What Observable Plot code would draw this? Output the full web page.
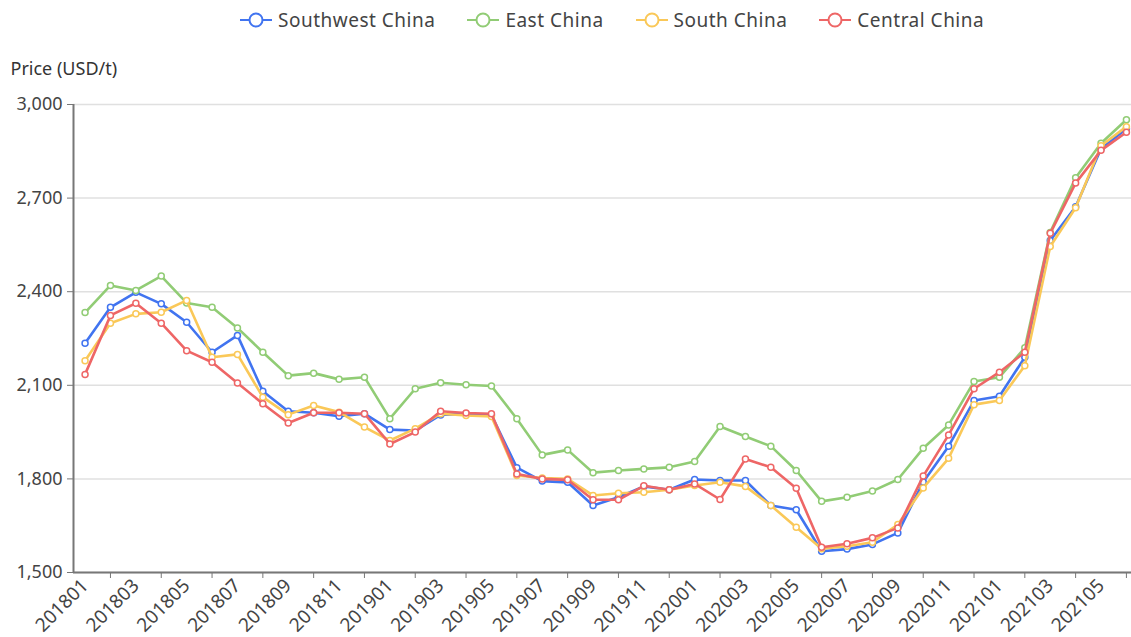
<!DOCTYPE html>
<html>
<head>
<meta charset="utf-8">
<script src="https://cdn.jsdelivr.net/npm/d3@7"></script>
<script src="https://cdn.jsdelivr.net/npm/@observablehq/plot@0.6"></script>
<style>
  body { margin: 0; background: #fff; font-family: "Noto Sans", sans-serif; }
  #legend { height: 40px; display: flex; align-items: center; padding-left: 240px; gap: 32px; color: #444; font-size: 19px; letter-spacing: 0.5px; }
  .item { display: flex; align-items: center; gap: 6px; }
  svg.plot { display: block; }
</style>
</head>
<body>
<div id="legend"></div>
<div id="chart"></div>
<script>
const months = ["201801","201802","201803","201804","201805","201806","201807","201808","201809","201810","201811","201812",
  "201901","201902","201903","201904","201905","201906","201907","201908","201909","201910","201911","201912",
  "202001","202002","202003","202004","202005","202006","202007","202008","202009","202010","202011","202012",
  "202101","202102","202103","202104","202105","202106"];
const seriesNames = ["Southwest China", "East China", "South China", "Central China"];
const seriesColors = ["#4174f0", "#91cc75", "#fac858", "#ee6666"];
const southwest = [2235,2350,2398,2361,2302,2206,2260,2081,2017,2012,2001,2009,1958,1955,2005,2009,2005,1836,1793,1789,1715,1741,
  1776,1765,1798,1795,1795,1715,1701,1568,1575,1590,1627,1790,1905,2051,2065,2190,2564,2672,2858,2922];
const east = [2333,2420,2404,2450,2364,2350,2284,2206,2131,2139,2119,2126,1993,2089,2108,2102,2098,1993,1877,1893,1820,1827,
  1832,1837,1856,1968,1936,1905,1827,1728,1741,1761,1798,1898,1973,2112,2126,2220,2590,2765,2876,2951];
const south = [2179,2299,2329,2334,2372,2190,2199,2062,2006,2035,2014,1966,1923,1961,2009,2003,2000,1811,1803,1800,1747,1754,
  1757,1765,1779,1789,1776,1715,1645,1576,1584,1597,1654,1771,1866,2038,2051,2163,2545,2669,2868,2929];
const central = [2135,2324,2363,2299,2211,2174,2107,2041,1979,2012,2012,2009,1912,1950,2017,2011,2009,1816,1800,1797,1733,1733,
  1778,1765,1784,1734,1864,1837,1770,1581,1592,1611,1643,1809,1941,2089,2142,2206,2587,2748,2853,2911];
const yTicks = [1500, 1800, 2100, 2400, 2700, 3000];
const yLabel = "Price (USD/t)";

const seriesValues = [southwest, east, south, central];
const data = seriesNames.map((name, s) => seriesValues[s].map((v, i) => ({series: name, i, v})));

// legend
const legend = document.getElementById("legend");
seriesNames.forEach((name, s) => {
  const item = document.createElement("div");
  item.className = "item";
  item.innerHTML = `<svg width="32" height="16"><line x1="0" y1="8" x2="32" y2="8" stroke="${seriesColors[s]}" stroke-width="2"/><circle cx="16" cy="8" r="6.5" fill="#fff" stroke="${seriesColors[s]}" stroke-width="2"/></svg><span>${name}</span>`;
  legend.appendChild(item);
});

const evenIdx = months.map((m, i) => i).filter(i => i % 2 === 0);
const oddIdx = months.map((m, i) => i).filter(i => i % 2 === 1);
const x0 = -0.455;

const marks = [
  Plot.gridY(yTicks, {stroke: "#e0e0e0", strokeOpacity: 1, strokeWidth: 1.5}),
  Plot.axisY({ticks: yTicks, tickFormat: d3.format(","), tickSize: 6, tickPadding: 5, fontSize: 18, color: "#444", label: null, stroke: "#777", style: {letterSpacing: "0.5px"}}),
  Plot.axisX({ticks: oddIdx, tickFormat: () => "", tickSize: 6, label: null, stroke: "#777"}),
  Plot.axisX({ticks: evenIdx, tickFormat: i => months[i], tickSize: 0, tickPadding: 10, tickRotate: -45, fontSize: 19, color: "#444", label: null, style: {letterSpacing: "0.8px"}}),
  Plot.ruleX([x0], {stroke: "#777", strokeWidth: 2}),
  Plot.ruleY([1500], {stroke: "#777", strokeWidth: 2}),
  Plot.text([yLabel], {frameAnchor: "top-left", dx: -63, dy: -35, textAnchor: "start", lineAnchor: "middle", fontSize: 18, fill: "#333", style: {letterSpacing: "1.2px"}})
];
data.forEach((d, s) => {
  marks.push(Plot.line(d, {x: "i", y: "v", stroke: seriesColors[s], strokeWidth: 2.6}));
  marks.push(Plot.dot(d, {x: "i", y: "v", stroke: seriesColors[s], fill: "#fff", r: 3, strokeWidth: 1.5}));
});

const chart = Plot.plot({
  width: 1131,
  height: 597,
  marginTop: 64,
  marginLeft: 73,
  marginRight: 0,
  marginBottom: 65,
  style: {fontFamily: "Noto Sans, sans-serif", background: "#fff", overflow: "visible"},
  x: {type: "linear", domain: [x0, 41.2]},
  y: {domain: [1500, 3000]},
  marks
});
document.getElementById("chart").appendChild(chart);
</script>
</body>
</html>
